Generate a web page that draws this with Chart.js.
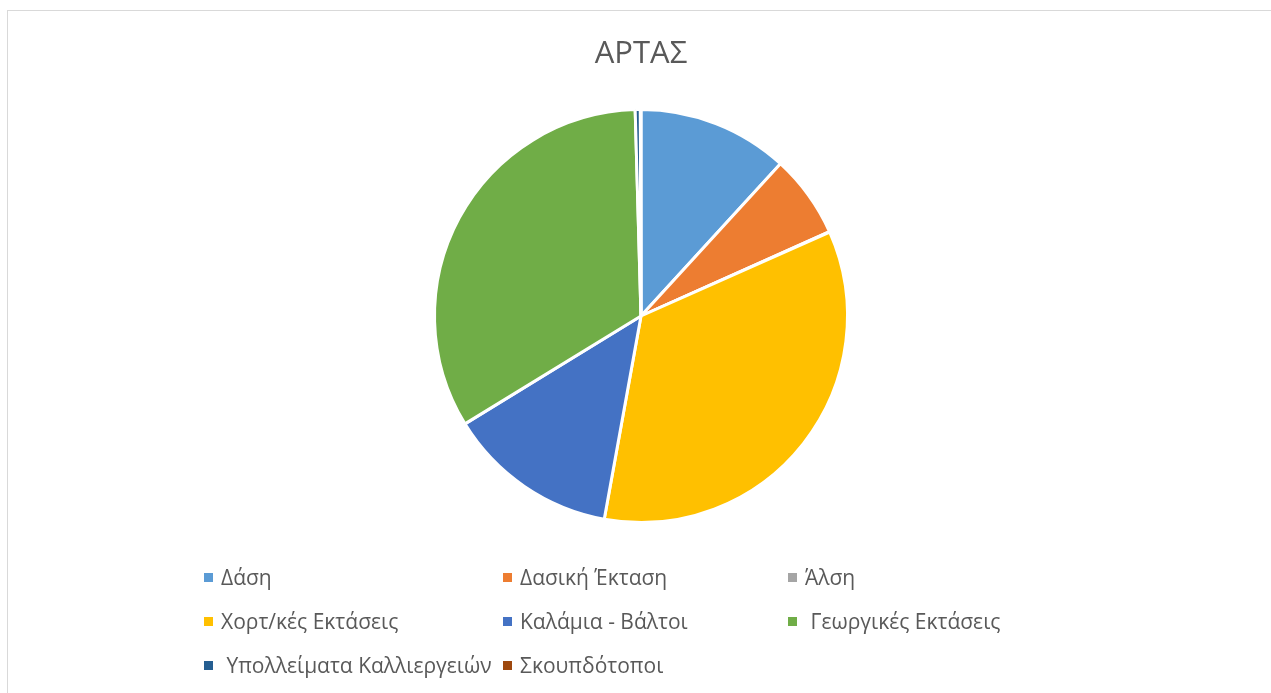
<!DOCTYPE html>
<html>
<head>
<meta charset="utf-8">
<script src="https://cdn.jsdelivr.net/npm/chart.js@4/dist/chart.umd.min.js"></script>
<style>
  body { margin: 0; background: #fff; width: 1271px; height: 693px; overflow: hidden; position: relative; font-family: "Open Sans", sans-serif; }
  #frame { position: absolute; left: 7px; top: 10px; width: 1300px; height: 720px; border: 1.5px solid #d9d9d9; box-sizing: border-box; }
  #wrap { position: absolute; left: 0; top: 0; width: 1271px; height: 693px; }
  #legend { position: absolute; left: 0; top: 0; width: 1271px; height: 693px; pointer-events: none; }
  .item { position: absolute; color: #595959; font-size: 21px; line-height: 1; white-space: pre; }
  .item i { position: absolute; width: 9px; height: 9px; top: 50%; margin-top: -4.5px; }
</style>
</head>
<body>
<div id="frame"></div>
<div id="wrap"><canvas id="grafico" width="1271" height="693"></canvas></div>
<div id="legend"></div>
<script>
const categorias = ["Δάση", "Δασική Έκταση", "Άλση", "Χορτ/κές Εκτάσεις", "Καλάμια - Βάλτοι", " Γεωργικές Εκτάσεις", " Υπολλείματα Καλλιεργειών", "Σκουπδότοποι"];
const valores = [11.8, 6.5, 0.05, 34.5, 13.4, 33.3, 0.4, 0.05];
const colores = ["#5B9BD5", "#ED7D31", "#A5A5A5", "#FFC000", "#4472C4", "#70AD47", "#255E91", "#9E480E"];

new Chart(document.getElementById("grafico").getContext("2d"), {
    type: "pie",
    data: {
        labels: categorias,
        datasets: [{
            data: valores,
            backgroundColor: colores,
            borderColor: "#ffffff",
            borderWidth: 3
        }]
    },
    options: {
        responsive: false,
        animation: false,
        layout: { padding: { left: 11, right: 0, top: 0, bottom: 169 } },
        plugins: {
            legend: { display: false },
            tooltip: { enabled: false },
            title: {
                display: true,
                text: "ΑΡΤΑΣ",
                color: "#595959",
                font: { family: "Open Sans", size: 31, weight: "normal" },
                padding: { top: 35.4, bottom: 35.4 }
            }
        }
    }
});

// leyenda en 3 columnas, como en Excel
const legend = document.getElementById("legend");
const colX = [204, 503, 788];
const filaY = [577, 621, 665];
categorias.forEach((cat, i) => {
    const d = document.createElement("div");
    d.className = "item";
    d.style.left = colX[i % 3] + "px";
    d.style.top = (filaY[Math.floor(i / 3)] - 11) + "px";
    d.style.height = "22px";
    d.style.paddingLeft = "17px";
    d.innerHTML = `<i style="left:0;background:${colores[i]}"></i><span style="line-height:22px">${cat}</span>`;
    legend.appendChild(d);
});
</script>
</body>
</html>
